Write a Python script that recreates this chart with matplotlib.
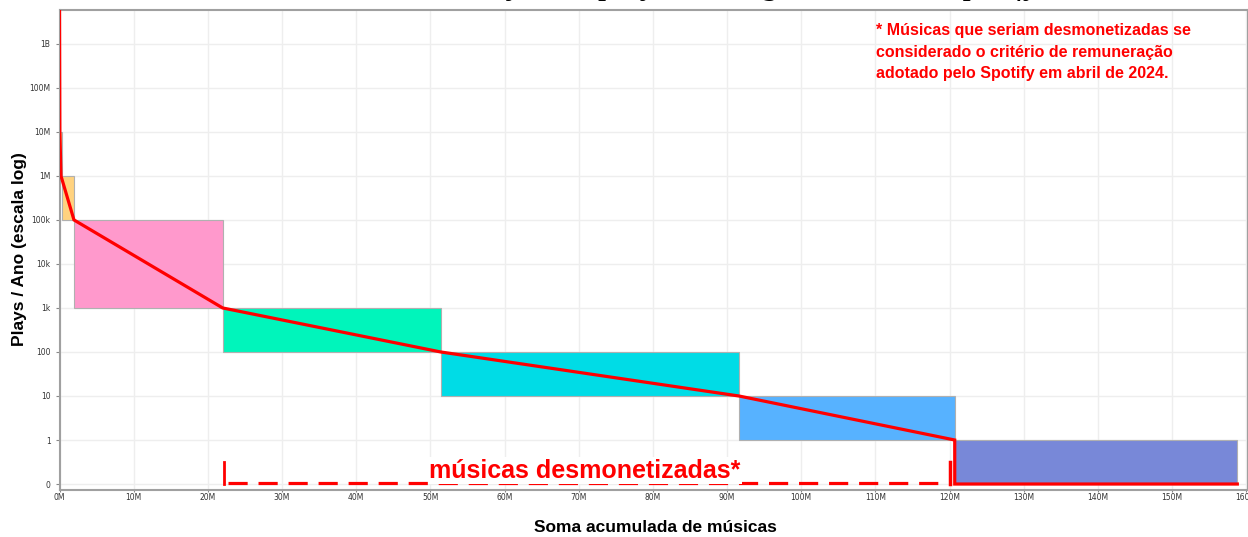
#----------------------------------------------------
# Imports
#----------------------------------------------------
import numpy as np
import matplotlib
matplotlib.use("Agg")
import matplotlib.pyplot as plt
from matplotlib.ticker import FixedLocator, FixedFormatter

#----------------------------------------------------
# Data (x in millions of songs)
#----------------------------------------------------
band_low = [1e6, 1e5, 1e3, 100, 10, 1, 0]
band_high = [1e7, 1e6, 1e5, 1e3, 100, 10, 1]
band_start = [0, 0.38, 1.95, 22.0, 51.4, 91.6, 120.7]
band_end = [0.38, 1.95, 22.0, 51.4, 91.6, 120.7, 158.8]
band_colors = ["#ffd27f", "#ffd27f", "#ff99cc", "#00f5bb",
               "#00dce6", "#57b2ff", "#7888d8"]

curve_x = [0, 0.05, 0.2, 1.95, 22.0, 51.4, 91.6, 120.7, 120.7, 158.8]
curve_y = [1e10, 1e7, 1e6, 1e5, 1e3, 100, 10, 1, 0, 0]

ytick_vals = [0, 1, 10, 100, 1e3, 1e4, 1e5, 1e6, 1e7, 1e8, 1e9]
ytick_labels = ["0", "1", "10", "100", "1k", "10k", "100k", "1M", "10M", "100M", "1B"]
xtick_vals = list(range(0, 170, 10))
xtick_labels = [f"{v}M" for v in xtick_vals]

demon_start = 22.2
demon_end = 120.05

#----------------------------------------------------
# Figure
#----------------------------------------------------
W, H = 1248, 537
fig = plt.figure(figsize=(W / 100, H / 100), dpi=100)
ax = fig.add_axes([59.5 / W, 47 / H, 1 - 59.5 / W, 480 / H])

ax.set_yscale("symlog", linthresh=1, linscale=0.9)
ax.set_xlim(0, (W - 59.5) / 7.417)
ax.set_ylim(-0.136, 10 ** 9.77)

ax.grid(True, color="#eeeeee", linewidth=1)
ax.set_axisbelow(True)

# bands
for lo, hi, x0, x1, c in zip(band_low, band_high, band_start, band_end, band_colors):
    ax.bar(x0, hi - lo, width=x1 - x0, bottom=lo, align="edge",
           color=c, edgecolor="#b0b0b0", linewidth=0.8, zorder=2)

# curve
ax.plot(curve_x, curve_y, color="#ff0000", linewidth=2.3, zorder=3,
        solid_joinstyle="miter")

# demonetized bracket
ax.plot([demon_start + 0.5, demon_end - 0.3], [0.02, 0.02], color="#ff0000",
        linewidth=2.3, linestyle=(0, (6, 3.4)), zorder=3)
ax.plot([demon_start, demon_start], [0, 0.5], color="#ff0000", linewidth=2, zorder=3)
ax.plot([demon_end, demon_end], [0, 0.5], color="#ff0000", linewidth=2.5, zorder=3)
ax.text((demon_start + demon_end) / 2 - 0.3, 0.3, "músicas desmonetizadas*",
        color="#ff0000", fontsize=18, fontweight="bold", family="Liberation Sans",
        ha="center", va="center", zorder=4,
        bbox=dict(facecolor="white", edgecolor="none", pad=1))

# ticks
ax.yaxis.set_major_locator(FixedLocator(ytick_vals))
ax.yaxis.set_major_formatter(FixedFormatter(ytick_labels))
ax.yaxis.set_minor_locator(FixedLocator([]))
ax.xaxis.set_major_locator(FixedLocator(xtick_vals))
ax.xaxis.set_major_formatter(FixedFormatter(xtick_labels))
ax.tick_params(axis="both", labelsize=5.5, labelcolor="#333333",
               color="#888888", length=3, width=0.8)
ax.tick_params(axis="x", length=1.5, pad=1)

for s in ax.spines.values():
    s.set_color("#a0a0a0")
    s.set_linewidth(1.5)

# labels
fig.text(655 / W, 1 - 527 / H, "Soma acumulada de músicas", ha="center", va="center",
         fontsize=12.5, fontweight="bold", family="Liberation Sans")
fig.text(20 / W, 1 - 249 / H, "Plays / Ano (escala log)", ha="center", va="center",
         rotation=90, fontsize=12.5, fontweight="bold", family="Liberation Sans")

fig.text(876 / W, 1 - 23 / H,
         "* Músicas que seriam desmonetizadas se\n"
         "considerado o critério de remuneração\n"
         "adotado pelo Spotify em abril de 2024.",
         ha="left", va="top", color="#ff0000", fontsize=11.5, fontweight="bold",
         family="Liberation Sans", linespacing=1.55)

# title (cropped at the top of the image, only descenders show)
fig.text(0.5 + 88 / W, 1 + 6 / H, "Distribuição de plays ao longo do ano no Spotify",
         ha="center", va="baseline", fontsize=24, style="italic",
         family="Liberation Serif")

fig.savefig("out.png", dpi=100)
